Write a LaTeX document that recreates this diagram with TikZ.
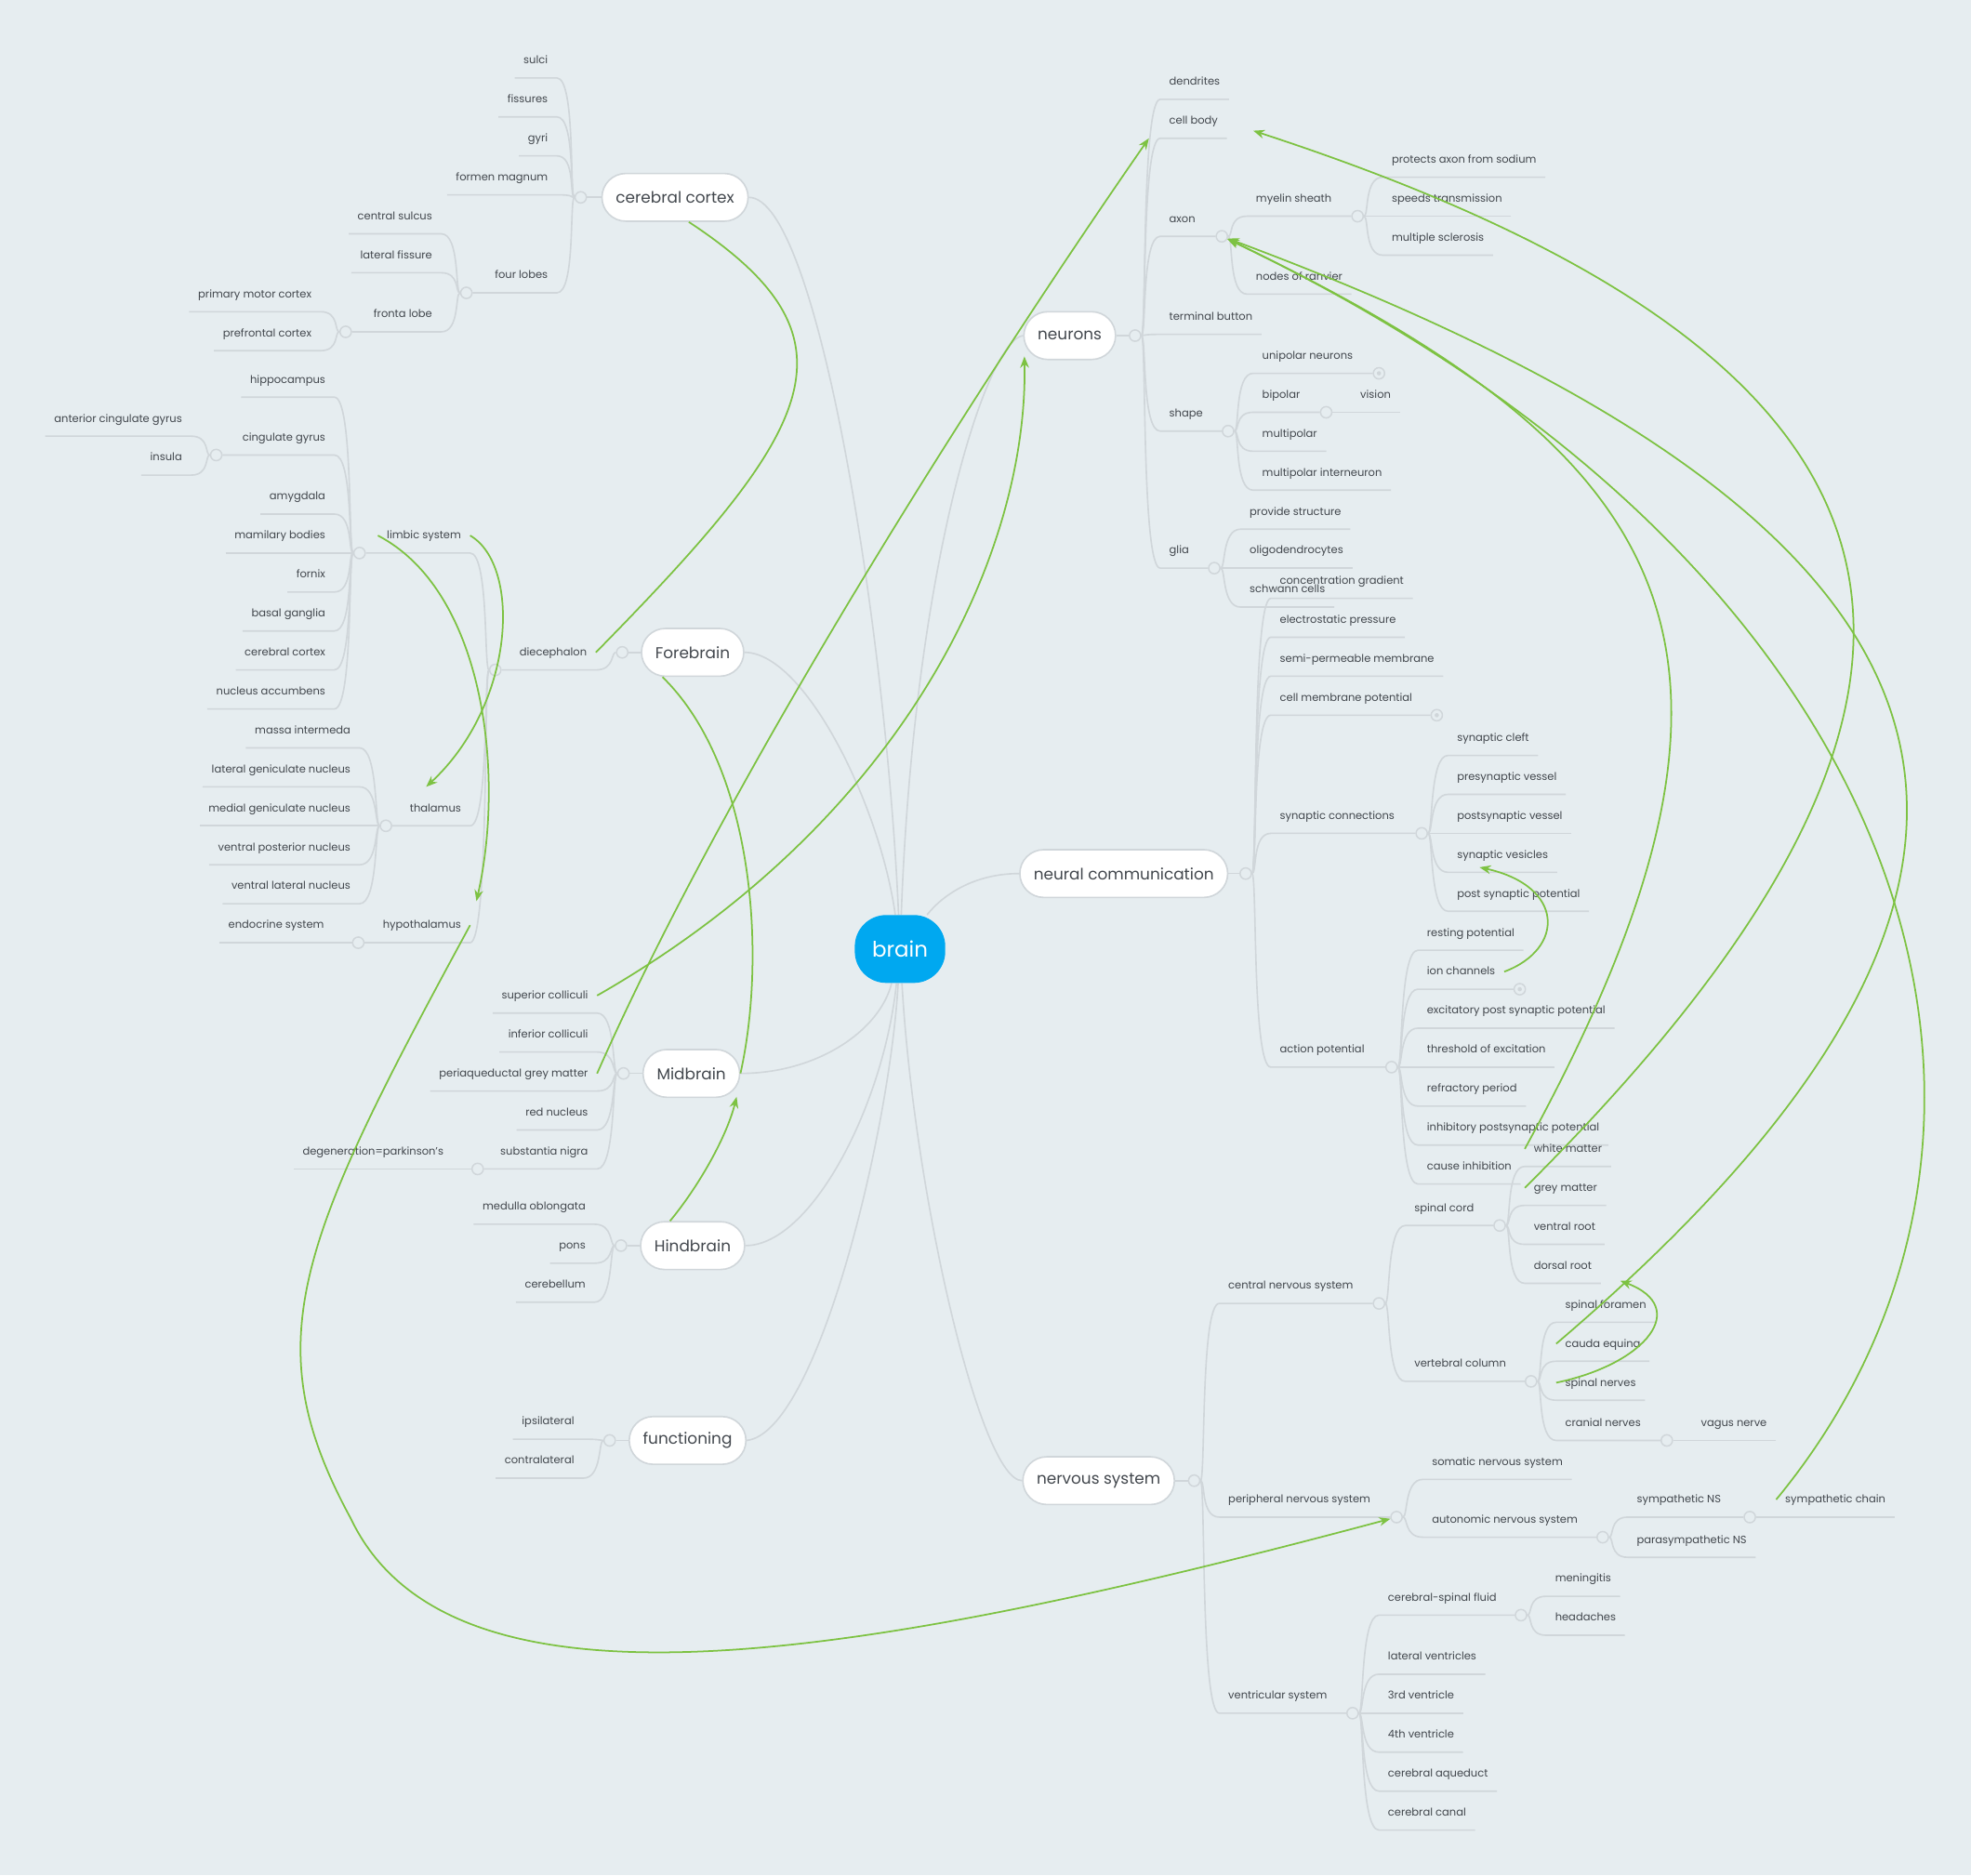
\documentclass[tikz,border=0pt]{standalone}
\usepackage{fontspec}
\setmainfont{Poppins}
\usetikzlibrary{arrows.meta,backgrounds}
\definecolor{bg}{RGB}{230,237,240}
\definecolor{twig}{RGB}{208,214,218}
\definecolor{ink}{RGB}{66,71,77}
\definecolor{leafgreen}{RGB}{125,194,66}
\definecolor{brainblue}{RGB}{0,168,240}
\begin{document}
\begin{tikzpicture}[x=1pt, y=-1pt,
    main/.style = {draw=twig, line width=1.2pt, fill=white, rounded corners=19pt, minimum height=38pt, inner xsep=11pt, text=ink, font=\fontsize{12.5}{15}\selectfont},
    root/.style = {fill=brainblue, text=white, rounded corners=25pt, minimum width=72pt, minimum height=54pt, font=\fontsize{17}{20}\selectfont},
    sub/.style = {text=ink, font=\fontsize{8.5}{10}\selectfont, inner xsep=7pt, inner ysep=0pt, text height=6.5pt, text depth=11pt},
    lsub/.style = {sub, anchor=south east},
    rsub/.style = {sub, anchor=south west},
    knob/.style = {circle, draw=twig, line width=1.1pt, fill=bg, minimum size=9pt, inner sep=0pt},
    fold/.style = {knob, path picture={\fill[twig] (path picture bounding box.center) circle (1.7pt);}},
    branch/.style = {draw=twig, line width=1.2pt},
    ltw/.style = {out=0, in=180, out distance=15pt, in distance=4pt},
    rtw/.style = {out=180, in=0, out distance=15pt, in distance=4pt},
    link/.style = {draw=leafgreen, line width=1.3pt},
    arr/.style = {link, -{Stealth[length=9pt, width=7pt]}}]

\useasboundingbox (0,0) rectangle (1568,1492);

\node[root] (0) at (716,755) {brain};
\node[main] (1) at (537,157) {cerebral cortex};
\node[main] (2) at (551,519) {Forebrain};
\node[main] (3) at (550,854) {Midbrain};
\node[main] (4) at (551,991) {Hindbrain};
\node[main] (5) at (547,1146) {functioning};
\node[main] (6) at (851,267) {neurons};
\node[main] (7) at (894,695) {neural communication};
\node[main] (8) at (874,1178) {nervous system};

\node[knob] (k1) at (462,157) {};
\node[knob] (k15) at (371,233) {};
\node[knob] (k153) at (275,264) {};
\node[knob] (k2) at (495,519) {};
\node[knob] (k21) at (394,533) {};
\node[knob] (k211) at (286,440) {};
\node[knob] (k2112) at (172,362) {};
\node[knob] (k212) at (307,657) {};
\node[knob] (k213) at (285,750) {};
\node[knob] (k3) at (496,854) {};
\node[knob] (k35) at (380,930) {};
\node[knob] (k4) at (494,991) {};
\node[knob] (k5) at (485,1146) {};
\node[knob] (k6) at (903,267) {};
\node[knob] (k63) at (972,188) {};
\node[knob] (k631) at (1080,172) {};
\node[knob] (k65) at (977,343) {};
\node[fold] (f651) at (1097,297) {};
\node[knob] (k652) at (1055,328) {};
\node[knob] (k66) at (966,452) {};
\node[knob] (k7) at (991,695) {};
\node[fold] (f74) at (1143,569) {};
\node[knob] (k75) at (1131,663) {};
\node[knob] (k76) at (1107,849) {};
\node[fold] (f762) at (1209,787) {};
\node[knob] (k8) at (950,1178) {};
\node[knob] (k81) at (1097,1037) {};
\node[knob] (k811) at (1193,975) {};
\node[knob] (k812) at (1218,1099) {};
\node[knob] (k8124) at (1326,1146) {};
\node[knob] (k82) at (1111,1207) {};
\node[knob] (k822) at (1275,1223) {};
\node[knob] (k8221) at (1392,1207) {};
\node[knob] (k83) at (1076,1363) {};
\node[knob] (k831) at (1210,1285) {};

\node[lsub] (11) at (443,62) {sulci};
\node[lsub] (12) at (443,93) {fissures};
\node[lsub] (13) at (443,124) {gyri};
\node[lsub] (14) at (443,155) {formen magnum};
\node[lsub] (15) at (443,233) {four lobes};
\node[lsub] (151) at (351,186) {central sulcus};
\node[lsub] (152) at (351,217) {lateral fissure};
\node[lsub] (153) at (351,264) {fronta lobe};
\node[lsub] (1531) at (255,248) {primary motor cortex};
\node[lsub] (1532) at (255,279) {prefrontal cortex};

\node[lsub] (21) at (474,533) {diecephalon};
\node[lsub] (211) at (374,440) {limbic system};
\node[lsub] (212) at (374,657) {thalamus};
\node[lsub] (213) at (374,750) {hypothalamus};
\node[lsub] (2111) at (266,316) {hippocampus};
\node[lsub] (2112) at (266,362) {cingulate gyrus};
\node[lsub] (21121) at (152,347) {anterior cingulate gyrus};
\node[lsub] (21122) at (152,378) {insula};
\node[lsub] (2113) at (266,409) {amygdala};
\node[lsub] (2114) at (266,440) {mamilary bodies};
\node[lsub] (2115) at (266,471) {fornix};
\node[lsub] (2116) at (266,502) {basal ganglia};
\node[lsub] (2117) at (266,533) {cerebral cortex};
\node[lsub] (2118) at (266,564) {nucleus accumbens};
\node[lsub] (2121) at (286,595) {massa intermeda};
\node[lsub] (2122) at (286,626) {lateral geniculate nucleus};
\node[lsub] (2123) at (286,657) {medial geniculate nucleus};
\node[lsub] (2124) at (286,688) {ventral posterior nucleus};
\node[lsub] (2125) at (286,719) {ventral lateral nucleus};
\node[lsub] (2131) at (265,750) {endocrine system};

\node[lsub] (31) at (475,806) {superior colliculi};
\node[lsub] (32) at (475,837) {inferior colliculi};
\node[lsub] (33) at (475,868) {periaqueductal grey matter};
\node[lsub] (34) at (475,899) {red nucleus};
\node[lsub] (35) at (475,930) {substantia nigra};
\node[lsub] (351) at (360,930) {degeneration=parkinson's};

\node[lsub] (41) at (473,974) {medulla oblongata};
\node[lsub] (42) at (473,1005) {pons};
\node[lsub] (43) at (473,1036) {cerebellum};

\node[lsub] (51) at (464,1145) {ipsilateral};
\node[lsub] (52) at (464,1176) {contralateral};

\node[rsub] (61) at (923,79) {dendrites};
\node[rsub] (62) at (923,110) {cell body};
\node[rsub] (63) at (923,188) {axon};
\node[rsub] (631) at (992,172) {myelin sheath};
\node[rsub] (6311) at (1100,141) {protects axon from sodium};
\node[rsub] (6312) at (1100,172) {speeds transmission};
\node[rsub] (6313) at (1100,203) {multiple sclerosis};
\node[rsub] (632) at (992,234) {nodes of ranvier};
\node[rsub] (64) at (923,266) {terminal button};
\node[rsub] (65) at (923,343) {shape};
\node[rsub] (651) at (997,297) {unipolar neurons};
\node[rsub] (652) at (997,328) {bipolar};
\node[rsub] (6521) at (1075,328) {vision};
\node[rsub] (653) at (997,359) {multipolar};
\node[rsub] (654) at (997,390) {multipolar interneuron};
\node[rsub] (66) at (923,452) {glia};
\node[rsub] (661) at (987,421) {provide structure};
\node[rsub] (662) at (987,452) {oligodendrocytes};
\node[rsub] (663) at (987,483) {schwann cells};

\node[rsub] (71) at (1011,476) {concentration gradient};
\node[rsub] (72) at (1011,507) {electrostatic pressure};
\node[rsub] (73) at (1011,538) {semi-permeable membrane};
\node[rsub] (74) at (1011,569) {cell membrane potential};
\node[rsub] (75) at (1011,663) {synaptic connections};
\node[rsub] (751) at (1152,601) {synaptic cleft};
\node[rsub] (752) at (1152,632) {presynaptic vessel};
\node[rsub] (753) at (1152,663) {postsynaptic vessel};
\node[rsub] (754) at (1152,694) {synaptic vesicles};
\node[rsub] (755) at (1152,725) {post synaptic potential};
\node[rsub] (76) at (1011,849) {action potential};
\node[rsub] (761) at (1128,756) {resting potential};
\node[rsub] (762) at (1128,787) {ion channels};
\node[rsub] (763) at (1128,818) {excitatory post synaptic potential};
\node[rsub] (764) at (1128,849) {threshold of excitation};
\node[rsub] (765) at (1128,880) {refractory period};
\node[rsub] (766) at (1128,911) {inhibitory postsynaptic potential};
\node[rsub] (767) at (1128,942) {cause inhibition};

\node[rsub] (81) at (970,1037) {central nervous system};
\node[rsub] (811) at (1118,975) {spinal cord};
\node[rsub] (8111) at (1213,928) {white matter};
\node[rsub] (8112) at (1213,959) {grey matter};
\node[rsub] (8113) at (1213,990) {ventral root};
\node[rsub] (8114) at (1213,1021) {dorsal root};
\node[rsub] (812) at (1118,1099) {vertebral column};
\node[rsub] (8121) at (1238,1052) {spinal foramen};
\node[rsub] (8122) at (1238,1083) {cauda equina};
\node[rsub] (8123) at (1238,1114) {spinal nerves};
\node[rsub] (8124) at (1238,1146) {cranial nerves};
\node[rsub] (81241) at (1346,1146) {vagus nerve};
\node[rsub] (82) at (970,1207) {peripheral nervous system};
\node[rsub] (821) at (1132,1177) {somatic nervous system};
\node[rsub] (822) at (1132,1223) {autonomic nervous system};
\node[rsub] (8221) at (1295,1207) {sympathetic NS};
\node[rsub] (82211) at (1413,1207) {sympathetic chain};
\node[rsub] (8222) at (1295,1239) {parasympathetic NS};
\node[rsub] (83) at (970,1363) {ventricular system};
\node[rsub] (831) at (1097,1285) {cerebral-spinal fluid};
\node[rsub] (8311) at (1230,1270) {meningitis};
\node[rsub] (8312) at (1230,1301) {headaches};
\node[rsub] (832) at (1097,1332) {lateral ventricles};
\node[rsub] (833) at (1097,1363) {3rd ventricle};
\node[rsub] (834) at (1097,1394) {4th ventricle};
\node[rsub] (835) at (1097,1425) {cerebral aqueduct};
\node[rsub] (836) at (1097,1456) {cerebral canal};

\coordinate (loop) at (279,1208);

\begin{scope}[on background layer]
\fill[bg] (0,0) rectangle (1568,1492);

\draw[branch] (1.east) .. controls (650,157) and (705,500) .. (0);
\draw[branch] (2.east) .. controls (640,519) and (700,640) .. (0);
\draw[branch] (3.east) .. controls (650,854) and (700,820) .. (0);
\draw[branch] (4.east) .. controls (645,991) and (703,880) .. (0);
\draw[branch] (5.east) .. controls (650,1140) and (708,900) .. (0);
\draw[branch] (6.west) .. controls (785,270) and (727,450) .. (0);
\draw[branch] (7.west) .. controls (775,695) and (750,712) .. (0);
\draw[branch] (8.west) .. controls (780,1178) and (727,950) .. (0);

\draw[branch] (1.west) -- (k1);
\draw[branch] (11.south west) -- (11.south east) to[ltw] (k1);
\draw[branch] (12.south west) -- (12.south east) to[ltw] (k1);
\draw[branch] (13.south west) -- (13.south east) to[ltw] (k1);
\draw[branch] (14.south west) -- (14.south east) to[ltw] (k1);
\draw[branch] (k15) -- (15.south east) to[ltw] (k1);
\draw[branch] (151.south west) -- (151.south east) to[ltw] (k15);
\draw[branch] (152.south west) -- (152.south east) to[ltw] (k15);
\draw[branch] (k153) -- (153.south east) to[ltw] (k15);
\draw[branch] (1531.south west) -- (1531.south east) to[ltw] (k153);
\draw[branch] (1532.south west) -- (1532.south east) to[ltw] (k153);

\draw[branch] (2.west) -- (k2);
\draw[branch] (k21) -- (21.south east) to[ltw] (k2);
\draw[branch] (k211) -- (211.south east) to[ltw] (k21);
\draw[branch] (k212) -- (212.south east) to[ltw] (k21);
\draw[branch] (k213) -- (213.south east) to[ltw] (k21);
\draw[branch] (2111.south west) -- (2111.south east) to[ltw] (k211);
\draw[branch] (k2112) -- (2112.south east) to[ltw] (k211);
\draw[branch] (21121.south west) -- (21121.south east) to[ltw] (k2112);
\draw[branch] (21122.south west) -- (21122.south east) to[ltw] (k2112);
\draw[branch] (2113.south west) -- (2113.south east) to[ltw] (k211);
\draw[branch] (2114.south west) -- (2114.south east) to[ltw] (k211);
\draw[branch] (2115.south west) -- (2115.south east) to[ltw] (k211);
\draw[branch] (2116.south west) -- (2116.south east) to[ltw] (k211);
\draw[branch] (2117.south west) -- (2117.south east) to[ltw] (k211);
\draw[branch] (2118.south west) -- (2118.south east) to[ltw] (k211);
\draw[branch] (2121.south west) -- (2121.south east) to[ltw] (k212);
\draw[branch] (2122.south west) -- (2122.south east) to[ltw] (k212);
\draw[branch] (2123.south west) -- (2123.south east) to[ltw] (k212);
\draw[branch] (2124.south west) -- (2124.south east) to[ltw] (k212);
\draw[branch] (2125.south west) -- (2125.south east) to[ltw] (k212);
\draw[branch] (2131.south west) -- (2131.south east) to[ltw] (k213);

\draw[branch] (3.west) -- (k3);
\draw[branch] (31.south west) -- (31.south east) to[ltw] (k3);
\draw[branch] (32.south west) -- (32.south east) to[ltw] (k3);
\draw[branch] (33.south west) -- (33.south east) to[ltw] (k3);
\draw[branch] (34.south west) -- (34.south east) to[ltw] (k3);
\draw[branch] (k35) -- (35.south east) to[ltw] (k3);
\draw[branch] (351.south west) -- (351.south east) to[ltw] (k35);

\draw[branch] (4.west) -- (k4);
\draw[branch] (41.south west) -- (41.south east) to[ltw] (k4);
\draw[branch] (42.south west) -- (42.south east) to[ltw] (k4);
\draw[branch] (43.south west) -- (43.south east) to[ltw] (k4);

\draw[branch] (5.west) -- (k5);
\draw[branch] (51.south west) -- (51.south east) to[ltw] (k5);
\draw[branch] (52.south west) -- (52.south east) to[ltw] (k5);

\draw[branch] (6.east) -- (k6);
\draw[branch] (61.south east) -- (61.south west) to[rtw] (k6);
\draw[branch] (62.south east) -- (62.south west) to[rtw] (k6);
\draw[branch] (k63) -- (63.south west) to[rtw] (k6);
\draw[branch] (k631) -- (631.south west) to[rtw] (k63);
\draw[branch] (6311.south east) -- (6311.south west) to[rtw] (k631);
\draw[branch] (6312.south east) -- (6312.south west) to[rtw] (k631);
\draw[branch] (6313.south east) -- (6313.south west) to[rtw] (k631);
\draw[branch] (632.south east) -- (632.south west) to[rtw] (k63);
\draw[branch] (64.south east) -- (64.south west) to[rtw] (k6);
\draw[branch] (k65) -- (65.south west) to[rtw] (k6);
\draw[branch] (f651) -- (651.south west) to[rtw] (k65);
\draw[branch] (k652) -- (652.south west) to[rtw] (k65);
\draw[branch] (6521.south east) -- (6521.south west) to[rtw] (k652);
\draw[branch] (653.south east) -- (653.south west) to[rtw] (k65);
\draw[branch] (654.south east) -- (654.south west) to[rtw] (k65);
\draw[branch] (k66) -- (66.south west) to[rtw] (k6);
\draw[branch] (661.south east) -- (661.south west) to[rtw] (k66);
\draw[branch] (662.south east) -- (662.south west) to[rtw] (k66);
\draw[branch] (663.south east) -- (663.south west) to[rtw] (k66);

\draw[branch] (7.east) -- (k7);
\draw[branch] (71.south east) -- (71.south west) to[rtw] (k7);
\draw[branch] (72.south east) -- (72.south west) to[rtw] (k7);
\draw[branch] (73.south east) -- (73.south west) to[rtw] (k7);
\draw[branch] (f74) -- (74.south west) to[rtw] (k7);
\draw[branch] (k75) -- (75.south west) to[rtw] (k7);
\draw[branch] (751.south east) -- (751.south west) to[rtw] (k75);
\draw[branch] (752.south east) -- (752.south west) to[rtw] (k75);
\draw[branch] (753.south east) -- (753.south west) to[rtw] (k75);
\draw[branch] (754.south east) -- (754.south west) to[rtw] (k75);
\draw[branch] (755.south east) -- (755.south west) to[rtw] (k75);
\draw[branch] (k76) -- (76.south west) to[rtw] (k7);
\draw[branch] (761.south east) -- (761.south west) to[rtw] (k76);
\draw[branch] (f762) -- (762.south west) to[rtw] (k76);
\draw[branch] (763.south east) -- (763.south west) to[rtw] (k76);
\draw[branch] (764.south east) -- (764.south west) to[rtw] (k76);
\draw[branch] (765.south east) -- (765.south west) to[rtw] (k76);
\draw[branch] (766.south east) -- (766.south west) to[rtw] (k76);
\draw[branch] (767.south east) -- (767.south west) to[rtw] (k76);

\draw[branch] (8.east) -- (k8);
\draw[branch] (k81) -- (81.south west) to[rtw] (k8);
\draw[branch] (k811) -- (811.south west) to[rtw] (k81);
\draw[branch] (8111.south east) -- (8111.south west) to[rtw] (k811);
\draw[branch] (8112.south east) -- (8112.south west) to[rtw] (k811);
\draw[branch] (8113.south east) -- (8113.south west) to[rtw] (k811);
\draw[branch] (8114.south east) -- (8114.south west) to[rtw] (k811);
\draw[branch] (k812) -- (812.south west) to[rtw] (k81);
\draw[branch] (8121.south east) -- (8121.south west) to[rtw] (k812);
\draw[branch] (8122.south east) -- (8122.south west) to[rtw] (k812);
\draw[branch] (8123.south east) -- (8123.south west) to[rtw] (k812);
\draw[branch] (k8124) -- (8124.south west) to[rtw] (k812);
\draw[branch] (81241.south east) -- (81241.south west) to[rtw] (k8124);
\draw[branch] (k82) -- (82.south west) to[rtw] (k8);
\draw[branch] (821.south east) -- (821.south west) to[rtw] (k82);
\draw[branch] (k822) -- (822.south west) to[rtw] (k82);
\draw[branch] (k8221) -- (8221.south west) to[rtw] (k822);
\draw[branch] (82211.south east) -- (82211.south west) to[rtw] (k8221);
\draw[branch] (8222.south east) -- (8222.south west) to[rtw] (k822);
\draw[branch] (k83) -- (83.south west) to[rtw] (k8);
\draw[branch] (k831) -- (831.south west) to[rtw] (k83);
\draw[branch] (8311.south east) -- (8311.south west) to[rtw] (k831);
\draw[branch] (8312.south east) -- (8312.south west) to[rtw] (k831);
\draw[branch] (832.south east) -- (832.south west) to[rtw] (k83);
\draw[branch] (833.south east) -- (833.south west) to[rtw] (k83);
\draw[branch] (834.south east) -- (834.south west) to[rtw] (k83);
\draw[branch] (835.south east) -- (835.south west) to[rtw] (k83);
\draw[branch] (836.south east) -- (836.south west) to[rtw] (k83);
\end{scope}

\draw[link] (21.mid east) .. controls (650,340) and (690,270) .. ([xshift=11pt]1.south);
\draw[arr] (211.mid east) .. controls (415,450) and (410,560) .. ([xshift=-35pt,yshift=31pt]212.south east);
\draw[arr] (211.mid west) .. controls (385,470) and (402,615) .. ([xshift=5pt,yshift=33pt]213.south east);
\draw[arr] (213.mid east) .. controls (236,990) and (203,1068) .. (loop) .. controls (357,1372) and (666,1326) .. (k82);
\draw[arr] (31.mid east) .. controls (720,652) and (818,440) .. ([xshift=1pt,yshift=3pt]6.south west);
\draw[arr] (33.mid east) .. controls (576,625) and (771,316) .. ([xshift=-9pt]62.south west);
\draw[arr] ([xshift=-18pt]4.north) .. controls (555,945) and (578,905) .. ([xshift=36pt,yshift=1pt]3.south);
\draw[link] ([xshift=-24pt]2.south) .. controls (600,610) and (610,760) .. (3.east);
\draw[arr] (762.mid east) .. controls (1245,755) and (1245,705) .. ([xshift=25pt,yshift=4pt]754.south west);
\draw[arr] (8123.mid west) .. controls (1310,1085) and (1345,1040) .. ([xshift=76pt,yshift=2pt]8114.south west);
\draw[arr] (8111.mid west) .. controls (1430,518) and (1339,364) .. (k63);
\draw[arr] (8112.mid west) .. controls (1610,550) and (1567,290) .. ([xshift=74pt,yshift=6pt]62.south west);
\draw[arr] (8122.mid west) .. controls (1711,666) and (1554,405) .. (k63);
\draw[arr] (82211.mid west) .. controls (1653,902) and (1535,457) .. (k63);
\end{tikzpicture}
\end{document}
